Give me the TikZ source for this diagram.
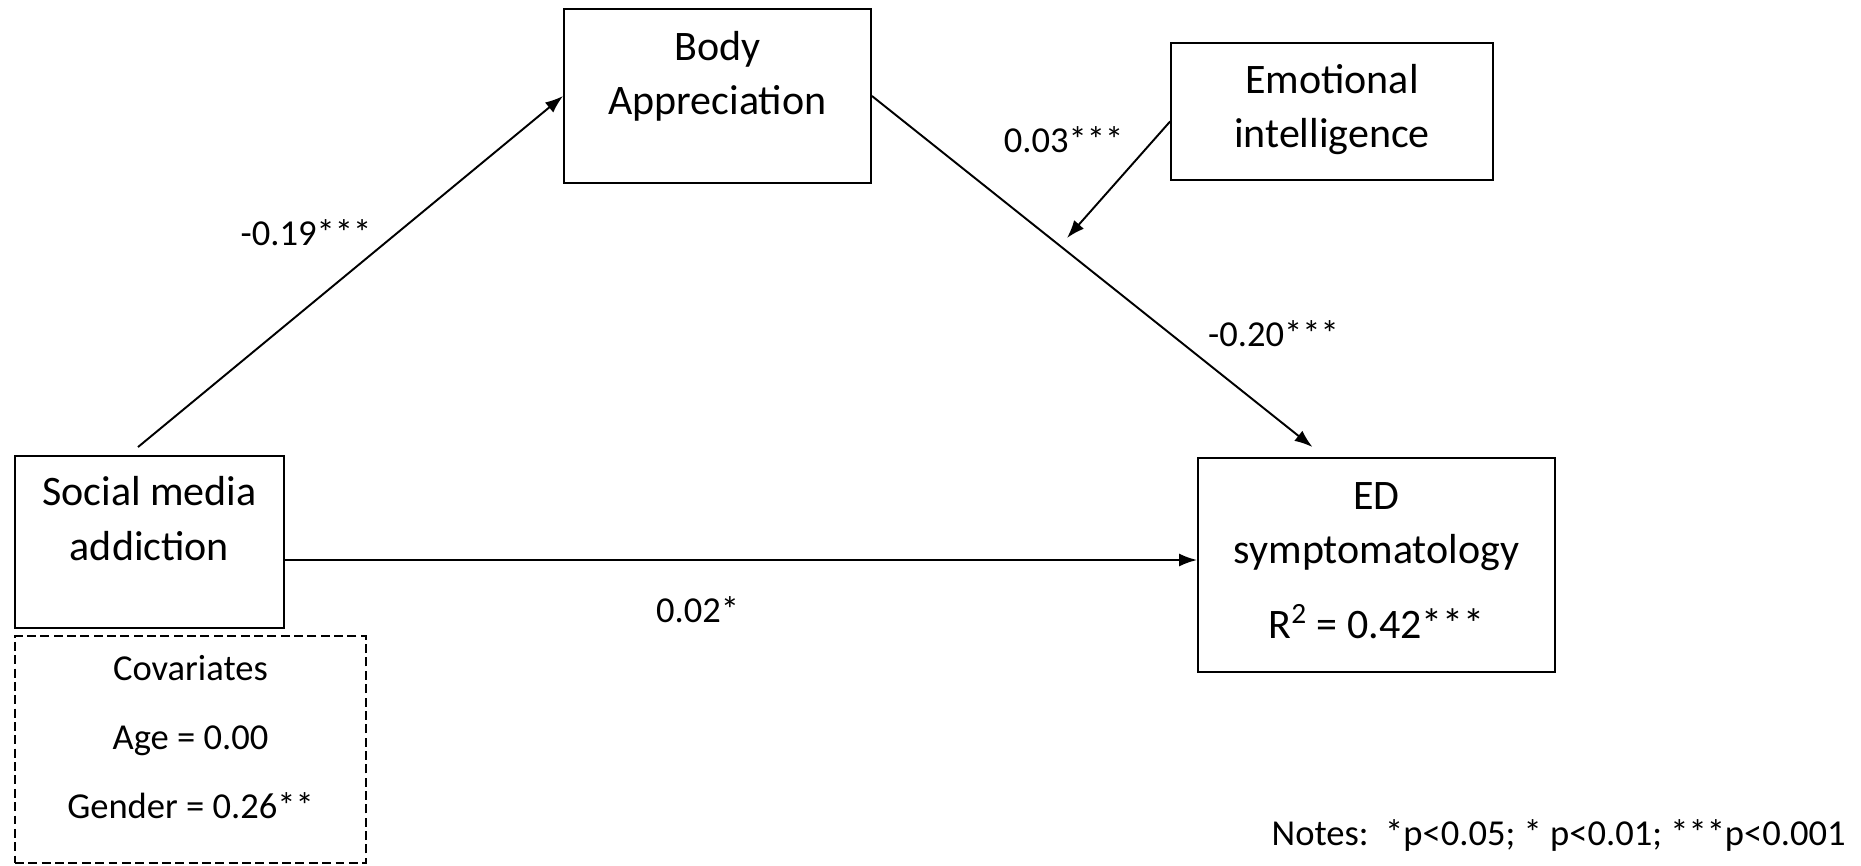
\documentclass[tikz,border=0pt]{standalone}
\usepackage{fontspec}
\setmainfont{Carlito}
\usetikzlibrary{arrows.meta, positioning}

\tikzset{
    varbox/.style={draw, line width=1.1pt, align=center, inner sep=0pt,
        font=\fontsize{23.9}{31}\selectfont},
    covbox/.style={draw, line width=1.1pt, dash pattern=on 5.1pt off 2.5pt,
        align=center, inner sep=0pt, font=\fontsize{20.8}{39.3}\selectfont},
    coef/.style={inner sep=0pt, anchor=base, font=\fontsize{20.8}{25}\selectfont},
    effect/.style={->, line width=1.1pt},
}

\begin{document}
\begin{tikzpicture}[x=0.02cm, y=-0.02cm, >={Latex[length=0.36cm, width=0.26cm]}]
    \useasboundingbox (0,0) rectangle (1861,865);

    % Variables
    \node[varbox, minimum width=5.38cm, text height=2.08cm, text depth=1.36cm] (sma) at (149.5,542) {Social media\\addiction};
    \node[varbox, minimum width=6.14cm, text height=2.12cm, text depth=1.36cm] (body) at (717.5,96) {Body\\Appreciation};
    \node[varbox, minimum width=6.44cm, text height=2.10cm, text depth=0.64cm] (ei) at (1332,111.5) {Emotional\\intelligence};
    \node[varbox, minimum width=7.14cm, text height=3.62cm, text depth=0.66cm] (ed) at (1376.5,565) {ED\\symptomatology\\[0.42cm]R\textsuperscript{2} = 0.42***};

    % Covariates
    \node[covbox, minimum width=7.02cm, text height=3.66cm, text depth=0.88cm] (cov) at (190.5,749.5) {Covariates\\Age = 0.00\\Gender = 0.26**};

    % Paths
    \coordinate (mod) at (1067,238);
    \draw[effect] ([shift={(-11.5,-8)}]sma.north) -- (body.west);
    \draw[effect] (body.east) -- ([shift={(-64,-10)}]ed.north);
    \draw[effect] ([shift={(0,10)}]ei.west) -- (mod);
    \draw[effect] ([shift={(0,18)}]sma.east) -- ([shift={(0,-5)}]ed.west);

    % Coefficients
    \node[coef] (a19) at (306,245) {-0.19***};
    \node[coef] (m03) at (1063.5,153) {0.03***};
    \node[coef] (b20) at (1273.5,346) {-0.20***};
    \node[coef] (c02) at (697.5,622) {0.02*};
    \node[coef, anchor=base east] (notes) at (1846,845) {Notes:\ \ *p<0.05; * p<0.01; ***p<0.001};
\end{tikzpicture}
\end{document}
